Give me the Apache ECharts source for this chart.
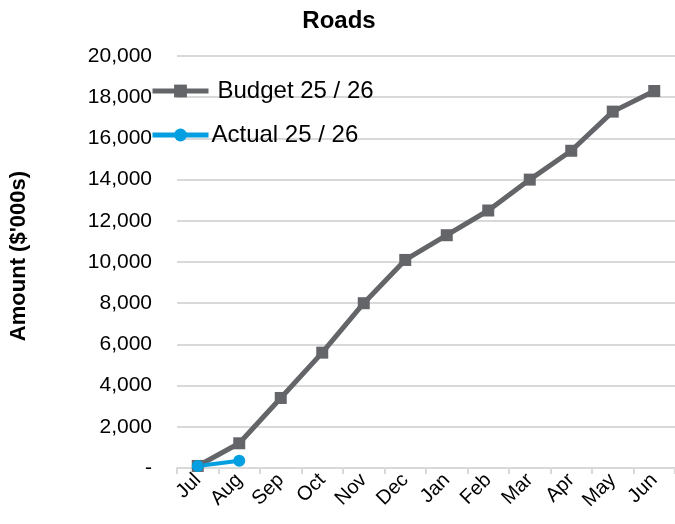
<!DOCTYPE html>
<html>
<head>
<meta charset="utf-8">
<script src="https://cdn.jsdelivr.net/npm/echarts@6.0.0/dist/echarts.min.js"></script>
<style>
  html, body { margin:0; padding:0; background:#fff; }
  #chart { width:675px; height:524px; }
</style>
</head>
<body>
<div id="chart"></div>
<script>
const months = ['Jul','Aug','Sep','Oct','Nov','Dec','Jan','Feb','Mar','Apr','May','Jun'];
const budget = [100, 1200, 3400, 5600, 8000, 10100, 11300, 12500, 14000, 15400, 17300, 18300];
const actual = [100, 350];
const yTicks = { min: 0, max: 20000, interval: 2000 };

const font = 'Arial, "Liberation Sans", sans-serif';
const chart = echarts.init(document.getElementById('chart'));

chart.setOption({
  backgroundColor: '#fff',
  animation: false,
  title: {
    text: 'Roads', left: 334, top: 4, textAlign: 'center',
    textStyle: { fontFamily: font, fontSize: 24, fontWeight: 'bold', color: '#000' }
  },
  legend: [
    { data: ['Budget 25 / 26'], left: 145, top: 74, itemWidth: 56, itemHeight: 16, itemGap: 10,
      lineStyle: { width: 5 },
      textStyle: { fontFamily: font, fontSize: 24, color: '#000', padding: [0, 0, 0, 4] } },
    { data: ['Actual 25 / 26'], left: 145, top: 118, itemWidth: 56, itemHeight: 16, itemGap: 4,
      lineStyle: { width: 5 },
      textStyle: { fontFamily: font, fontSize: 24, color: '#000', padding: [0, 0, 0, -2] } }
  ],
  grid: { left: 177, right: 0, top: 56, bottom: 56, containLabel: false, outerBoundsMode: 'none' },
  xAxis: {
    type: 'category', data: months, boundaryGap: true,
    axisLine: { lineStyle: { color: '#d9d9d9', width: 2 } },
    axisTick: { show: true, length: 6, lineStyle: { color: '#d9d9d9', width: 2 } },
    axisLabel: { rotate: 45, margin: 9, fontFamily: font, fontSize: 20, color: '#000', interval: 0 }
  },
  yAxis: {
    type: 'value', min: yTicks.min, max: yTicks.max, interval: yTicks.interval,
    name: "Amount ($'000s)", nameLocation: 'middle', nameGap: 147, nameRotate: 90,
    nameTextStyle: { fontFamily: font, fontSize: 22, fontWeight: 'bold', color: '#000', padding: [0, 0, 0, 12] },
    axisLine: { show: false }, axisTick: { show: false },
    splitLine: { lineStyle: { color: '#d9d9d9', width: 2 } },
    axisLabel: {
      margin: 25, fontFamily: font, fontSize: 21, color: '#000',
      formatter: v => v === 0 ? '-' : v.toLocaleString('en-US')
    }
  },
  series: [
    { name: 'Budget 25 / 26', type: 'line', data: budget,
      symbol: 'rect', symbolSize: 12, showAllSymbol: true,
      lineStyle: { color: '#636569', width: 5 }, itemStyle: { color: '#636569' } },
    { name: 'Actual 25 / 26', type: 'line', data: actual,
      symbol: 'circle', symbolSize: 12, showAllSymbol: true,
      lineStyle: { color: '#049fe0', width: 4 }, itemStyle: { color: '#049fe0' } }
  ]
});
</script>
</body>
</html>
